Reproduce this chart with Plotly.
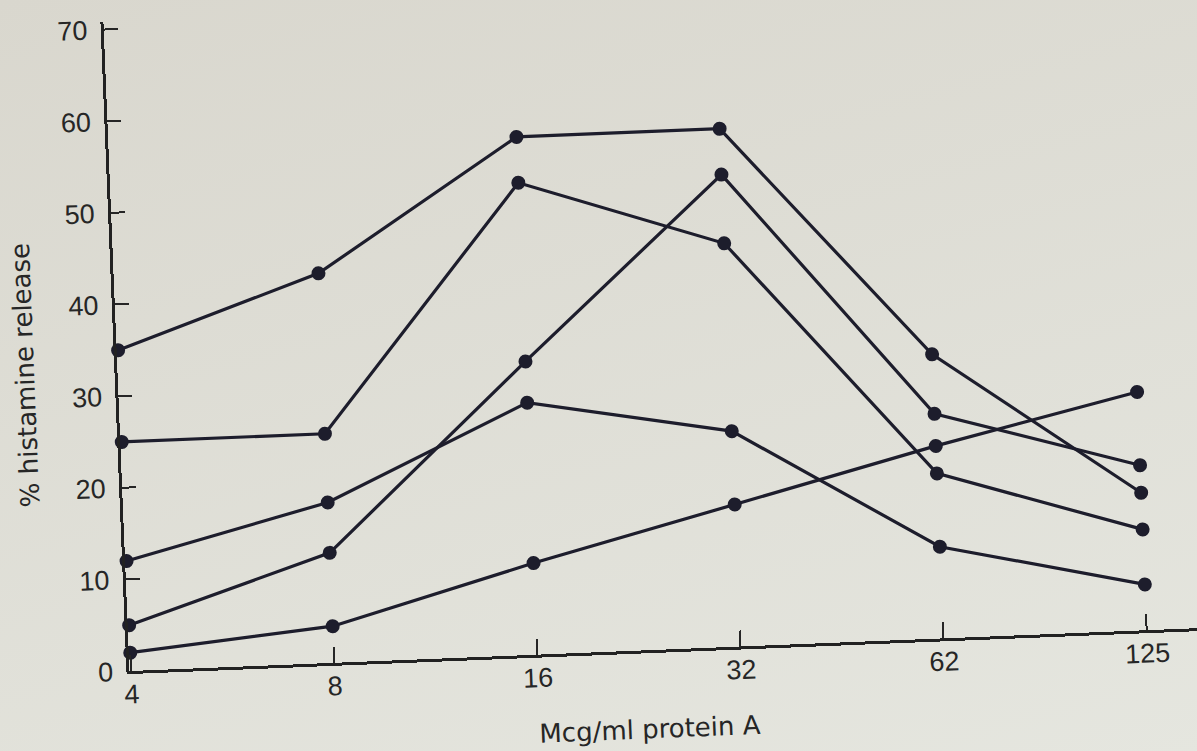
import plotly.graph_objects as go

# Protein A dose (mcg/ml) and % histamine release for each donor
doses = ["4", "8", "16", "32", "62", "125"]
release_a = [35, 42.5, 56.5, 56.5, 31, 15]
release_b = [25, 25, 51.5, 44, 18, 11]
release_c = [12, 17.5, 27.5, 23.5, 10, 5]
release_d = [5, 12, 32, 51.5, 24.5, 18]
release_e = [2, 4, 10, 15.5, 21, 26]
y_ticks = [0, 10, 20, 30, 40, 50, 60, 70]

INK = "#1d1d2c"
PAPER_TOP = "#d9d7ce"
PAPER_BOTTOM = "#e5e6df"
TICK_FONT = dict(family="Liberation Sans, Arial, Helvetica", size=27, color="#262626")
TITLE_FONT = dict(family="DejaVu Sans, Verdana", size=26, color="#262626")

W, H = 1197, 760
L, T, B = 118, 5, 103

fig = go.Figure()
for series in [release_a, release_b, release_c, release_d, release_e]:
    fig.add_trace(go.Scatter(
        x=doses, y=series, mode="lines+markers",
        line=dict(color=INK, width=3.2),
        marker=dict(color=INK, size=14),
        cliponaxis=False, showlegend=False, hoverinfo="x+y",
    ))

fig.update_layout(
    width=W, height=H,
    margin=dict(l=L, r=0, t=T, b=B, pad=0),
    paper_bgcolor="rgba(0,0,0,0)",
    plot_bgcolor="rgba(0,0,0,0)",
    showlegend=False,
    xaxis=dict(
        type="category", range=[-0.0074, 5.3],
        showgrid=False, zeroline=False,
        showline=True, linecolor="#222222", linewidth=3,
        ticks="inside", ticklen=16, tickwidth=2.2, tickcolor="#262626",
        tickfont=TICK_FONT, ticklabelstandoff=-3, ticklabeloverflow="allow",
    ),
    yaxis=dict(
        range=[0, 70.87], tickvals=y_ticks,
        showgrid=False, zeroline=False,
        showline=True, linecolor="#222222", linewidth=3,
        ticks="inside", ticklen=14, tickwidth=2.2, tickcolor="#262626",
        tickfont=TICK_FONT, ticklabelstandoff=8, ticklabeloverflow="allow",
    ),
    annotations=[
        dict(text="Mcg/ml protein A", xref="paper", yref="paper",
             x=(635.5 - L) / (W - L), y=(657 - 736) / (657 - T),
             xanchor="center", yanchor="middle", showarrow=False, font=TITLE_FONT),
        dict(text="% histamine release", xref="paper", yref="paper",
             x=(25.5 - L) / (W - L), y=(657 - 357) / (657 - T),
             xanchor="center", yanchor="middle", textangle=-90,
             showarrow=False, font=TITLE_FONT),
    ],
)

# Page styling: paper tone behind the figure and the slight tilt of the sheet
post = """
var gd = document.getElementById('{plot_id}');
document.documentElement.style.overflow = 'hidden';
document.body.style.margin = '0';
document.body.style.overflow = 'hidden';
document.body.style.background = 'linear-gradient(165deg, %s 0%%, %s 100%%)';
document.body.style.minHeight = '100vh';
gd.style.transformOrigin = '598.5px 380.5px';
gd.style.transform = 'translateY(-5px) rotate(-2.3deg)';
""" % (PAPER_TOP, PAPER_BOTTOM)

fig.write_html("out.html", post_script=post, config=dict(displayModeBar=False))
